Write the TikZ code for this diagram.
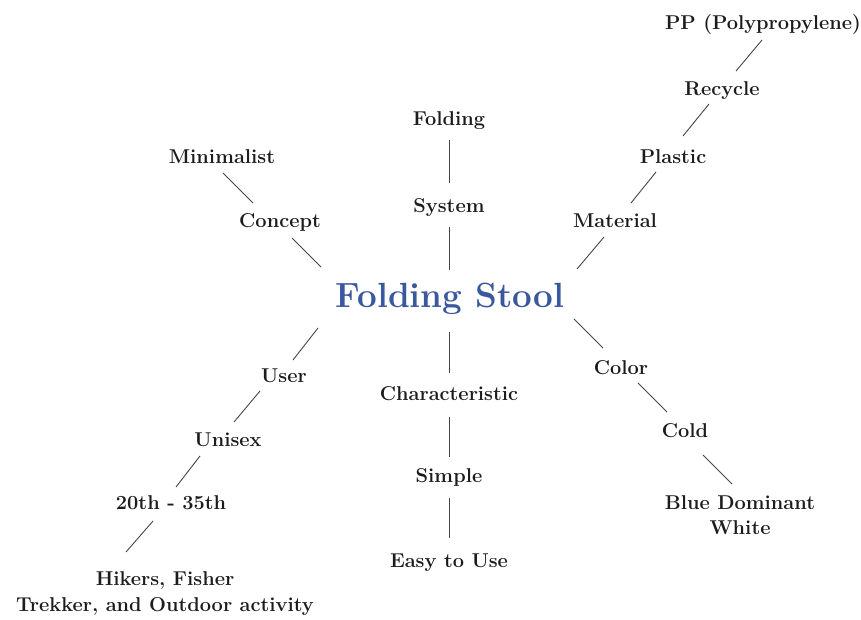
\documentclass[tikz,border=0pt]{standalone}
\usepackage{fontspec}
\usetikzlibrary{calc}
\definecolor{stoolblue}{RGB}{58,88,158}
\definecolor{ink}{RGB}{28,28,28}
\definecolor{linegray}{RGB}{70,70,70}
\tikzset{
  lbl/.style={anchor=base, inner sep=0pt, text=ink, align=center,
    font=\fontsize{20}{26}\selectfont\bfseries},
  title/.style={anchor=base, inner sep=0pt, text=stoolblue,
    font=\fontsize{35}{40}\selectfont\bfseries},
  link/.style={draw=linegray, line width=0.9pt}
}
\begin{document}
\begin{tikzpicture}[x=1pt,y=-1pt]
\useasboundingbox[fill=white] (0,0) rectangle (861,619);
% centre
\node[title] (stool) at (450,307) {Folding Stool};
% vertical branches
\node[lbl] (folding) at (449,125) {Folding};
\node[lbl] (system) at (449,212) {System};
\node[lbl] (char) at (449,400) {Characteristic};
\node[lbl] (simple) at (449,482) {Simple};
\node[lbl] (easy) at (449,567) {Easy to Use};
% upper left
\node[lbl] (minimal) at (222,163) {Minimalist};
\node[lbl] (concept) at (280,227) {Concept};
% upper right
\node[lbl] (material) at (615,227) {Material};
\node[lbl] (plastic) at (673,163) {Plastic};
\node[lbl] (recycle) at (722,95) {Recycle};
\node[lbl] (pp) at (763,29) {PP (Polypropylene)};
% lower left
\node[lbl] (user) at (284,382) {User};
\node[lbl] (unisex) at (228,446) {Unisex};
\node[lbl] (twenty) at (171,509) {20th - 35th};
\node[lbl] (hikers) at (165,611) {Hikers, Fisher\\Trekker, and Outdoor activity};
% lower right
\node[lbl] (color) at (621,374) {Color};
\node[lbl] (cold) at (685,437) {Cold};
\node[lbl, font=\fontsize{20}{25}\selectfont\bfseries] (blue) at (740,534) {Blue Dominant\\White};
% connectors
\draw[link] ($(folding.base)+(0,15)$) -- ($(system.base)+(0,-29)$);
\draw[link] ($(system.base)+(0,15)$) -- ($(stool.base)+(-1,-37)$);
\draw[link] ($(stool.base)+(-1,25)$) -- ($(char.base)+(0,-27)$);
\draw[link] ($(char.base)+(0,17)$) -- ($(simple.base)+(0,-25)$);
\draw[link] ($(simple.base)+(0,16)$) -- ($(easy.base)+(0,-29)$);
\draw[link] ($(minimal.base)+(1,10)$) -- ($(concept.base)+(-27,-24)$);
\draw[link] ($(concept.base)+(12,11)$) -- ($(stool.base)+(-129,-40)$);
\draw[link] ($(material.base)+(-11,10)$) -- ($(stool.base)+(127,-38)$);
\draw[link] ($(plastic.base)+(-17,9)$) -- ($(material.base)+(16,-24)$);
\draw[link] ($(recycle.base)+(-13,9)$) -- ($(plastic.base)+(10,-27)$);
\draw[link] ($(pp.base)+(-1,11)$) -- ($(recycle.base)+(14,-24)$);
\draw[link] ($(stool.base)+(-132,21)$) -- ($(user.base)+(9,-22)$);
\draw[link] ($(user.base)+(-24,9)$) -- ($(unisex.base)+(6,-24)$);
\draw[link] ($(unisex.base)+(-28,10)$) -- ($(twenty.base)+(5,-22)$);
\draw[link] ($(twenty.base)+(-18,12)$) -- ($(hikers.base)+(-39,-59)$);
\draw[link] ($(stool.base)+(124,12)$) -- ($(color.base)+(-18,-26)$);
\draw[link] ($(color.base)+(17,9)$) -- ($(cold.base)+(-18,-25)$);
\draw[link] ($(cold.base)+(18,18)$) -- ($(blue.base)+(-8,-50)$);
\end{tikzpicture}
\end{document}
